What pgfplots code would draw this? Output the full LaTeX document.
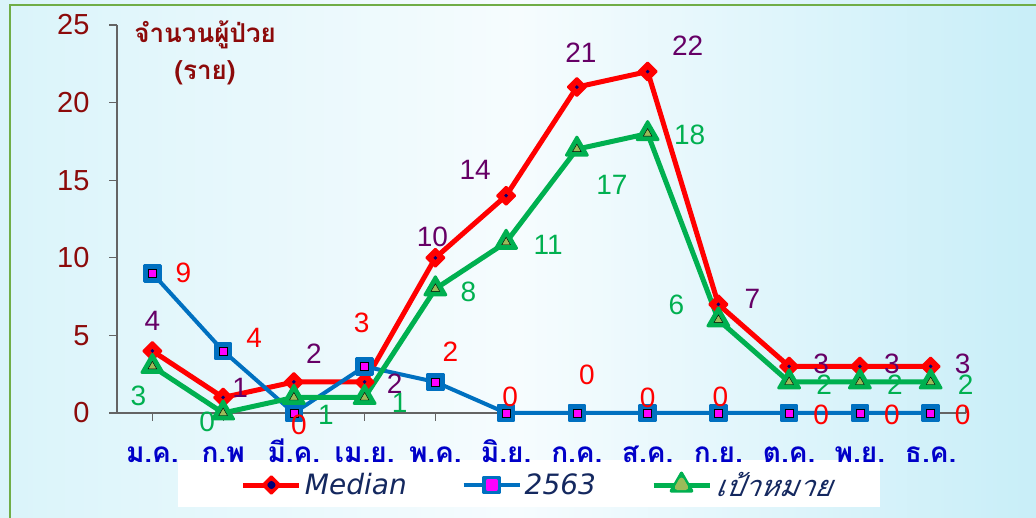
\documentclass[border=0pt]{standalone}
\usepackage{pgfplots}
\pgfplotsset{compat=1.18}
\usepackage{pgfplotstable}
\usepackage{fontspec}
\setmainfont{Liberation Sans}
\newfontfamily\thaifont[Script=Thai]{Loma}
\newfontfamily\thaislant[Script=Thai,FakeSlant=0.2]{Loma}
\newfontfamily\dejavu{DejaVu Sans}
\definecolor{bgl}{RGB}{218,244,250}
\definecolor{bgm}{RGB}{246,252,254}
\definecolor{bgr}{RGB}{200,238,248}
\definecolor{bordergreen}{RGB}{112,173,71}
\definecolor{axisgray}{RGB}{100,100,100}
\definecolor{medred}{RGB}{255,0,0}
\definecolor{blue63}{RGB}{0,112,192}
\definecolor{tgreen}{RGB}{0,176,80}
\definecolor{olive}{RGB}{155,187,89}
\definecolor{pinkm}{RGB}{255,0,255}
\definecolor{navydot}{RGB}{0,0,120}
\definecolor{purp}{RGB}{102,0,102}
\definecolor{ydarkred}{RGB}{140,10,10}
\definecolor{xblue}{RGB}{0,0,200}
\definecolor{legnavy}{RGB}{20,40,95}

\pgfplotsset{
  medleg/.style={legend image code/.code={
    \draw[medred, line width=5pt] (0pt,0pt) -- (56pt,0pt);
    \draw[medred, fill=medred, line width=2.5pt, line join=round, rotate around={45:(28pt,0pt)}] (22pt,-6pt) rectangle (34pt,6pt);
    \fill[navydot] (28pt,0pt) circle (1.6pt);
  }},
  yrsleg/.style={legend image code/.code={
    \draw[blue63, line width=4pt] (0pt,0pt) -- (56pt,0pt);
    \draw[blue63, fill=blue63, line width=2.5pt, line join=round] (20pt,-8pt) rectangle (36pt,8pt);
    \fill[pinkm] (24pt,-4pt) rectangle (32pt,4pt);
  }},
  tarleg/.style={legend image code/.code={
    \draw[tgreen, line width=5pt] (0pt,0pt) -- (56pt,0pt);
    \draw[tgreen, fill=tgreen, line width=3pt, line join=round] (28pt,12pt) -- (17.6pt,-6pt) -- (38.4pt,-6pt) -- cycle;
    \fill[olive] (28pt,5pt) -- (23.7pt,-2.5pt) -- (32.3pt,-2.5pt) -- cycle;
  }},
}

\pgfplotstableread{
x y dx dy
0 4 0 30
1 1 17 10
2 2 20 28
3 2 30 -2
4 10 -3 21
5 14 -31 26
6 21 4 34
7 22 40 26
8 7 34 5
9 3 32 3
10 3 32 3
11 3 32 3
}\median

\pgfplotstableread{
x y dx dy
0 9 31 0
1 4 31 13
2 0 5 -12
3 3 -3 44
4 2 15 30
5 0 4 16
6 0 10 38
7 0 0 15
8 0 2 16
9 0 32 -2
10 0 32 -2
11 0 32 -2
}\yrs

\pgfplotstableread{
x y dx dy
0 3 -14 -29
1 0 -16 -9
2 1 32 -17
3 1 35 -5
4 8 33 -3
5 11 42 -3
6 17 35 -36
7 18 42 -1
8 6 -42 15
9 2 35 -3
10 2 35 -3
11 2 35 -3
}\target

\begin{document}
\begin{tikzpicture}
\useasboundingbox (0pt,0pt) rectangle (1036pt,518pt);
\shade[left color=bgl,right color=bgr,middle color=bgm] (0pt,0pt) rectangle (1036pt,518pt);
\draw[bordergreen,line width=2pt] (10pt,-5pt) -- (10pt,513pt) -- (1045pt,513pt);
\fill[white] (178pt,11pt) rectangle (880pt,58pt);
\begin{axis}[
  at={(117pt,105pt)}, anchor=south west,
  scale only axis, width=849pt, height=388pt,
  xmin=-0.5, xmax=11.5, ymin=0, ymax=25,
  clip=false,
  axis x line*=bottom, axis y line*=left,
  axis line style={draw=axisgray, line width=1.2pt},
  tick style={draw=axisgray, line width=1.2pt},
  tick align=outside, major tick length=8pt,
  xtick={0,...,11},
  xticklabels={ม.ค.,ก.พ,มี.ค.,เม.ย.,พ.ค.,มิ.ย.,ก.ค.,ส.ค.,ก.ย.,ต.ค.,พ.ย.,ธ.ค.},
  ytick={0,5,...,25},
  /pgf/number format/assume math mode=true,
  x tick label style={font=\thaifont\bfseries\fontsize{28}{30}\selectfont, text=xblue, anchor=base, yshift=-42pt},
  y tick label style={font=\fontsize{29}{31}\selectfont, text=ydarkred, xshift=-16pt},
  legend style={at={(0.4953,-0.1856)}, anchor=center, draw=none, fill=none,
    legend columns=3, font=\dejavu\itshape\fontsize{28}{30}\selectfont, text=legnavy,
    /tikz/every even column/.append style={column sep=52pt},
    nodes={inner sep=3pt}},
]
% Median
\addplot[medred, line width=5pt, line join=round, mark=square*, mark size=6.2pt,
  mark options={rotate=45, fill=medred, draw=medred, line width=2.5pt, line join=round},
  medleg] table[x=x,y=y] {\median};
\addlegendentry{Median}
\addplot[forget plot, only marks, mark=*, mark size=1.6pt, navydot] table[x=x,y=y] {\median};
% 2563
\addplot[blue63, line width=4pt, line join=round, mark=square*, mark size=8pt,
  mark options={fill=blue63, draw=blue63, line width=2.5pt, line join=round},
  yrsleg] table[x=x,y=y] {\yrs};
\addlegendentry{2563}
\addplot[forget plot, only marks, mark=square*, mark size=4pt, mark options={draw=none, fill=pinkm}] table[x=x,y=y] {\yrs};
% target
\addplot[tgreen, line width=5pt, line join=round, mark=triangle*, mark size=12pt,
  mark options={fill=tgreen, draw=tgreen, line width=3pt, line join=round},
  tarleg] table[x=x,y=y] {\target};
\addlegendentry{{\thaislant\fontsize{29}{31}\selectfont เป้าหมาย}}
\addplot[forget plot, only marks, mark=triangle*, mark size=5pt, mark options={draw=none, fill=olive}] table[x=x,y=y] {\target};
% labels
\addplot[forget plot, draw=none, mark=none, nodes near coords, point meta=explicit,
  visualization depends on={\thisrow{dx} \as \dx},
  visualization depends on={\thisrow{dy} \as \dy},
  nodes near coords style={anchor=center, xshift=\dx pt, yshift=\dy pt, text=purp, font=\fontsize{28}{30}\selectfont, inner sep=0pt}]
  table[x=x,y=y,meta=y] {\median};
\addplot[forget plot, draw=none, mark=none, nodes near coords, point meta=explicit,
  visualization depends on={\thisrow{dx} \as \dx},
  visualization depends on={\thisrow{dy} \as \dy},
  nodes near coords style={anchor=center, xshift=\dx pt, yshift=\dy pt, text=medred, font=\fontsize{28}{30}\selectfont, inner sep=0pt}]
  table[x=x,y=y,meta=y] {\yrs};
\addplot[forget plot, draw=none, mark=none, nodes near coords, point meta=explicit,
  visualization depends on={\thisrow{dx} \as \dx},
  visualization depends on={\thisrow{dy} \as \dy},
  nodes near coords style={anchor=center, xshift=\dx pt, yshift=\dy pt, text=tgreen, font=\fontsize{28}{30}\selectfont, inner sep=0pt}]
  table[x=x,y=y,meta=y] {\target};
\draw[axisgray, line width=1.2pt] (axis cs:11.5,0) -- ++(0pt,6pt);
\node[align=center, text=ydarkred, font=\thaifont\bfseries\fontsize{26}{37}\selectfont] at (rel axis cs:0.1037,0.928) {จำนวนผู้ป่วย\\(ราย)};
\end{axis}
\end{tikzpicture}
\end{document}
